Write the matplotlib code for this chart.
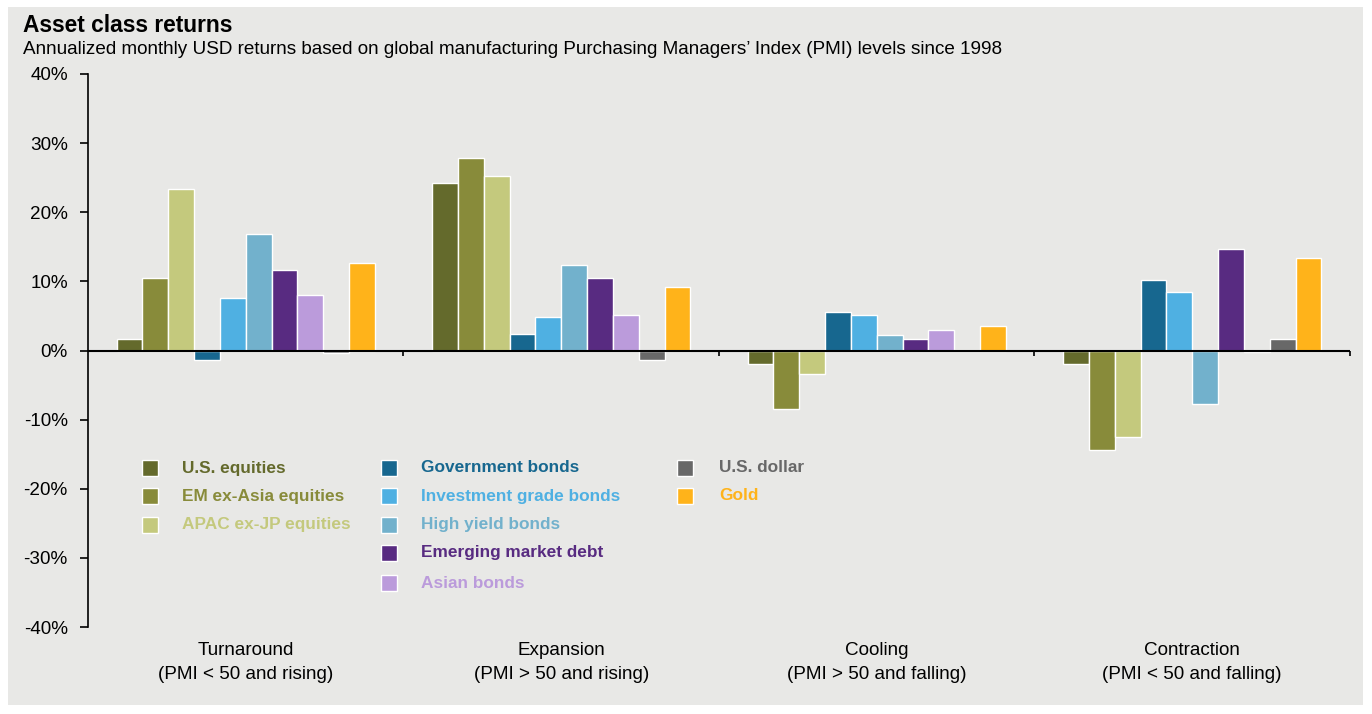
import numpy as np
import matplotlib
matplotlib.use("Agg")
import matplotlib.pyplot as plt
from matplotlib.patches import Rectangle

plt.rcParams['font.family'] = ['Liberation Sans', 'DejaVu Sans']

# Data (annualized returns, %)
phases = ["Turnaround\n(PMI < 50 and rising)",
          "Expansion\n(PMI > 50 and rising)",
          "Cooling\n(PMI > 50 and falling)",
          "Contraction\n(PMI < 50 and falling)"]

assets = ["U.S. equities", "EM ex-Asia equities", "APAC ex-JP equities",
          "Government bonds", "Investment grade bonds", "High yield bonds",
          "Emerging market debt", "Asian bonds", "U.S. dollar", "Gold"]

us_equities = [1.6, 24.2, -1.9, -1.9]
em_ex_asia = [10.5, 27.9, -8.5, -14.4]
apac_ex_jp = [23.4, 25.3, -3.4, -12.5]
gov_bonds = [-1.4, 2.4, 5.5, 10.2]
ig_bonds = [7.6, 4.9, 5.2, 8.5]
hy_bonds = [16.8, 12.3, 2.3, -7.8]
em_debt = [11.7, 10.5, 1.7, 14.7]
asian_bonds = [8.1, 5.2, 2.9, -0.2]
us_dollar = [-0.4, -1.4, 0.1, 1.6]
gold = [12.6, 9.2, 3.6, 13.4]

series = [us_equities, em_ex_asia, apac_ex_jp, gov_bonds, ig_bonds,
          hy_bonds, em_debt, asian_bonds, us_dollar, gold]

colors = ["#646A2C", "#888B3A", "#C4C97D", "#17678F", "#4FB0E2",
          "#72B1CC", "#582B81", "#BB9BDB", "#686868", "#FFB31A"]

# legend layout: which column each asset sits in
legend_cols = [0, 0, 0, 1, 1, 1, 1, 1, 2, 2]

W, H = 1372, 714
fig = plt.figure(figsize=(W / 100, H / 100), dpi=100, facecolor="white")

def fx(x):
    return x / W

def fy(y):
    return 1 - y / H

bg = "#E8E8E6"
fig.patches.append(Rectangle((fx(8), fy(705)), fx(1363) - fx(8), fy(7) - fy(705),
                             transform=fig.transFigure, facecolor=bg,
                             edgecolor="none", zorder=-10))

ax = fig.add_axes([fx(88), fy(627), fx(1350) - fx(88), fy(74) - fy(627)])
ax.patch.set_alpha(0)

n = len(series)
width = 0.819 / n
x = np.arange(len(phases))
for j, (vals, c) in enumerate(zip(series, colors)):
    ax.bar(x + (j - (n - 1) / 2) * width, vals, width, color=c,
           edgecolor="white", linewidth=1.0, zorder=2)

ax.set_xlim(-0.5, len(phases) - 0.5)
ax.set_ylim(-40, 40)
ax.set_yticks(np.arange(-40, 41, 10))
ax.set_yticklabels([f"{v}%" for v in range(-40, 41, 10)], fontsize=13.6)
ax.tick_params(axis="y", direction="out", length=6, width=1.2, pad=8.5)

ax.set_xticks(x)
ax.set_xticklabels(phases, fontsize=13.6)
ax.tick_params(axis="x", length=0, pad=11)
for lbl in ax.get_xticklabels():
    lbl.set_linespacing(1.5)

for s in ["top", "right", "bottom"]:
    ax.spines[s].set_visible(False)
ax.spines["left"].set_linewidth(1.2)

# zero line with category separator ticks
ax.axhline(0, color="black", linewidth=1.5, zorder=3)
ax.vlines(x + 0.5, -0.75, 0, color="black", linewidth=1.2, zorder=3, clip_on=False)

# titles
fig.text(fx(23), fy(26), "Asset class returns", fontsize=16.4, fontweight="bold",
         va="center", ha="left")
fig.text(fx(23), fy(49), "Annualized monthly USD returns based on global manufacturing "
         "Purchasing Managers\u2019 Index (PMI) levels since 1998",
         fontsize=13.6, va="center", ha="left")

# legend, drawn by hand in three columns
col_sq = [150, 389, 685]
col_tx = [182, 421, 719]
row_y = [468, 496, 525, 553, 583]
row_count = [0, 0, 0]
for name, c, col in zip(assets, colors, legend_cols):
    r = row_count[col]
    row_count[col] += 1
    yc = row_y[r]
    sq = 16
    fig.patches.append(Rectangle((fx(col_sq[col] - sq / 2), fy(yc + sq / 2)),
                                 sq / W, sq / H, transform=fig.transFigure,
                                 facecolor=c, edgecolor="white", linewidth=1.0))
    fig.text(fx(col_tx[col]), fy(yc), name, color=c, fontsize=12.4,
             fontweight="bold", va="center", ha="left")

fig.savefig("out.png", dpi=100, facecolor="white")
